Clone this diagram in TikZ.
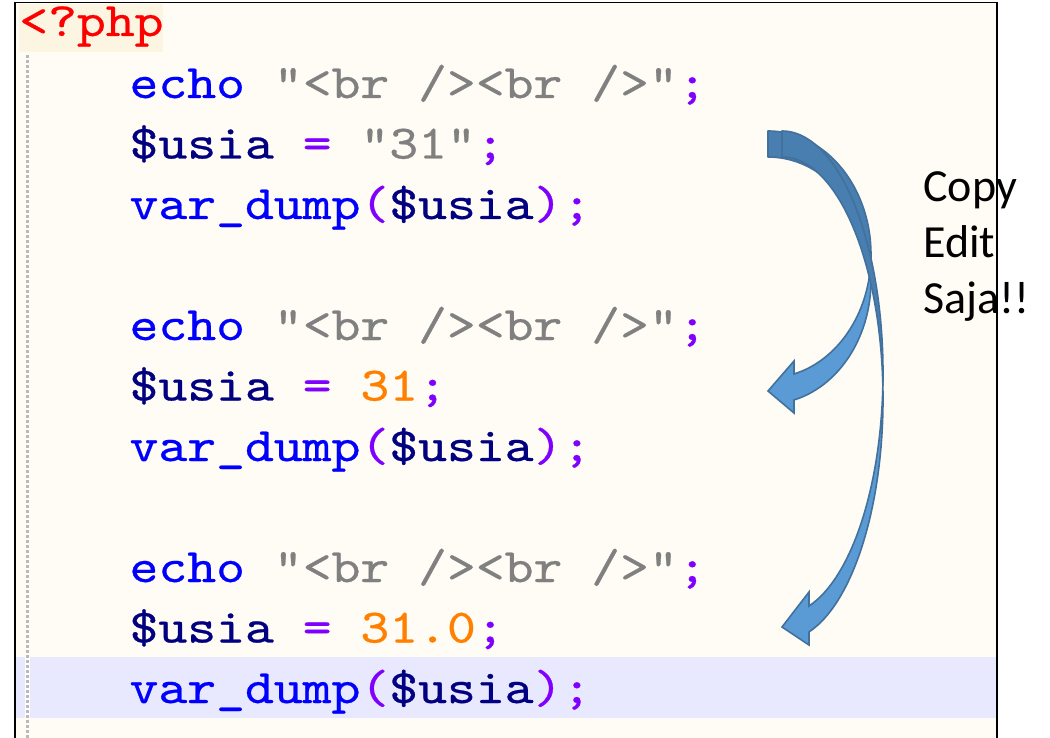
\documentclass[tikz,border=0pt]{standalone}
\usepackage{fontspec}
\setmainfont{Carlito}
\newfontfamily\codefont{lmmono10-regular.otf}[FakeBold=0.5]

\definecolor{panelbg}{RGB}{255,252,245}
\definecolor{tagbg}{RGB}{252,245,226}
\definecolor{hlbg}{RGB}{232,232,255}
\definecolor{guidegray}{RGB}{185,185,185}
\definecolor{phpred}{RGB}{255,0,0}
\definecolor{kwblue}{RGB}{0,0,255}
\definecolor{strgray}{RGB}{128,128,128}
\definecolor{varnavy}{RGB}{0,0,128}
\definecolor{oppurple}{RGB}{128,0,255}
\definecolor{numorange}{RGB}{255,128,0}
\definecolor{arrowlight}{RGB}{91,155,213}
\definecolor{arrowdark}{RGB}{72,126,176}
\definecolor{arrowline}{RGB}{65,113,156}

\newcommand{\phpkw}[1]{\textcolor{kwblue}{#1}}
\newcommand{\phpstr}[1]{\textcolor{strgray}{#1}}
\newcommand{\phpvar}[1]{\textcolor{varnavy}{#1}}
\newcommand{\phpop}[1]{\textcolor{oppurple}{#1}}
\newcommand{\phpnum}[1]{\textcolor{numorange}{#1}}
\newcommand{\codetext}[1]{\scalebox{1.1452}[1]{#1}}

\tikzset{
  codeline/.style={anchor=base west, inner sep=0pt, font=\codefont\fontsize{36pt}{43pt}\selectfont},
  notetext/.style={anchor=base west, inner sep=0pt, font=\fontsize{34.5pt}{41.6pt}\selectfont},
  arrowback/.style={fill=arrowdark, draw=arrowline, line width=1.2pt, line join=round},
  arrowfront/.style={fill=arrowlight, draw=arrowline, line width=1.2pt, line join=miter},
}

\begin{document}
\begin{tikzpicture}[x=0.75pt,y=-0.75pt]
	\def\xc{129.3} % start of code column
	\def\dy{60.5} % line spacing
	
	\useasboundingbox (0,0) rectangle (1050,738);
	\fill[white] (0,0) rectangle (1050,738);
	\fill[panelbg] (15,2) rectangle (997,738);
	\fill[tagbg] (19,4) rectangle (163,52);
	\fill[hlbg] (16,657) rectangle (997,718);
	\fill[white] (25.3,657) rectangle (29.5,718);
	\draw[guidegray,line width=2pt,dash pattern=on 2pt off 1.75pt] (27.5,55) -- (27.5,738);
	
	% code
	\node[codeline,text=phpred] (php) at (19,36) {\codetext{<?php}};
	\node[codeline] (l1) at (\xc,98) {\codetext{\phpkw{echo} \phpstr{"<br /><br />"}\phpop{;}}};
	\node[codeline] (l2) at (\xc,98+\dy) {\codetext{\phpvar{\$usia} \phpop{=} \phpstr{"31"}\phpop{;}}};
	\node[codeline] (l3) at (\xc,98+2*\dy) {\codetext{\phpkw{var\_dump}\phpop{(}\phpvar{\$usia}\phpop{);}}};
	\node[codeline] (l5) at (\xc,98+4*\dy) {\codetext{\phpkw{echo} \phpstr{"<br /><br />"}\phpop{;}}};
	\node[codeline] (l6) at (\xc,98+5*\dy) {\codetext{\phpvar{\$usia} \phpop{=} \phpnum{31}\phpop{;}}};
	\node[codeline] (l7) at (\xc,98+6*\dy) {\codetext{\phpkw{var\_dump}\phpop{(}\phpvar{\$usia}\phpop{);}}};
	\node[codeline] (l9) at (\xc,98+8*\dy) {\codetext{\phpkw{echo} \phpstr{"<br /><br />"}\phpop{;}}};
	\node[codeline] (l10) at (\xc,98+9*\dy) {\codetext{\phpvar{\$usia} \phpop{=} \phpnum{31.0}\phpop{;}}};
	\node[codeline] (l11) at (\xc,98+10*\dy) {\codetext{\phpkw{var\_dump}\phpop{(}\phpvar{\$usia}\phpop{);}}};
	
	% short arrow (to second block)
	\draw[arrowback] (768,131) arc[start angle=-90,end angle=6.04,x radius=103,y radius=123.5]
		arc[start angle=-6.04,end angle=-90,x radius=103,y radius=123.5] -- cycle;
	\draw[arrowfront] (870.4,267.5) arc[start angle=-6.04,end angle=75.38,x radius=103,y radius=123.5]
		-- (794,413) -- (768,391) -- (794,361) -- (794,374)
		arc[start angle=75.38,end angle=6.04,x radius=103,y radius=123.5] -- cycle;
	
	% long arrow (to third block)
	\draw[arrowback] (782,131) arc[start angle=-90,end angle=3.08,x radius=101,y radius=241.9]
		arc[start angle=-3.08,end angle=-90,x radius=101,y radius=241.9] -- cycle;
	\draw[arrowfront] (882.85,385.9) arc[start angle=-3.08,end angle=74.49,x radius=101,y radius=241.9]
		-- (809,645) -- (782,627) -- (809,592) -- (809,606)
		arc[start angle=74.49,end angle=3.08,x radius=101,y radius=241.9] -- cycle;
	
	% note
	\node[notetext] (note1) at (923,202) {Copy};
	\node[notetext] (note2) at (923,257.5) {Edit};
	\node[notetext] (note3) at (923,313) {Saja!!};
	
	% panel border
	\draw[line width=0.8pt] (15,2.5) -- (997,2.5) -- (997,738);
	\draw[line width=1.8pt] (15,2) -- (15,738);
\end{tikzpicture}
\end{document}
